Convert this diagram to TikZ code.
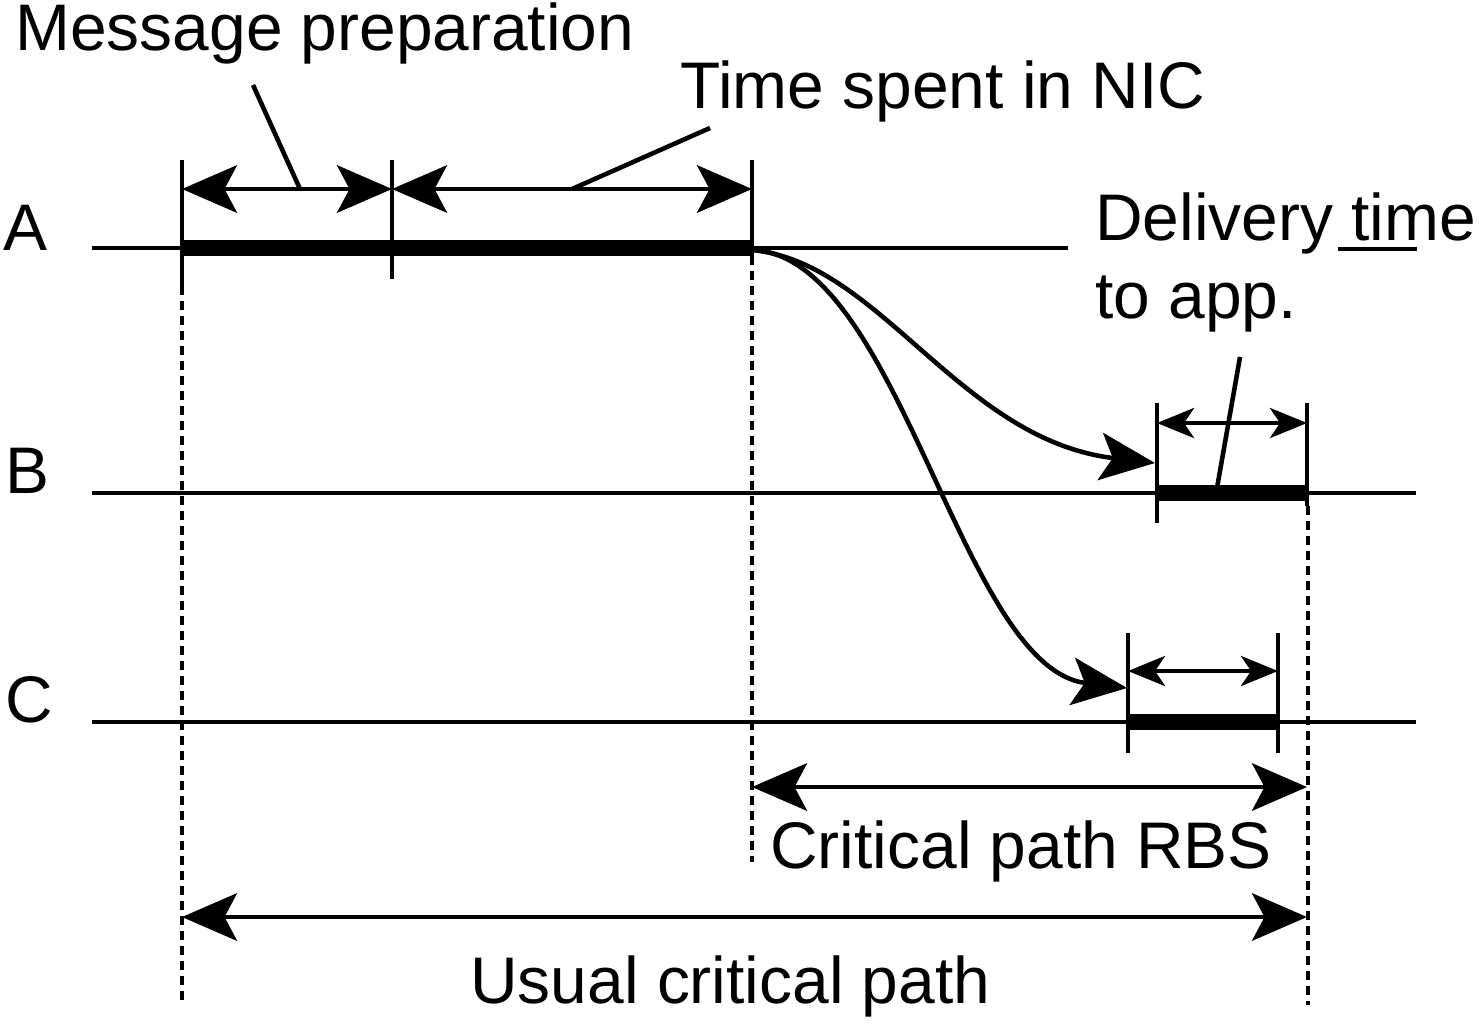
\documentclass[tikz,border=0pt]{standalone}
\usepackage{fontspec}
\setmainfont{Liberation Sans}
\usetikzlibrary{arrows.meta, positioning, calc}

\begin{document}
\begin{tikzpicture}[
    x=0.02cm, y=-0.02cm,
    label/.style={inner sep=0pt, anchor=base west, font=\fontsize{37.5}{44}\selectfont},
    timeline/.style={line width=2.6pt},
    busy/.style={line width=9.5pt},
    tick/.style={line width=2.6pt},
    guide/.style={line width=2.6pt, dash pattern=on 0.18cm off 0.12cm},
    leader/.style={line width=2.6pt},
    bighead/.tip={Stealth[length=1.1cm, width=0.95cm, inset=0.25cm]},
    smallhead/.tip={Stealth[length=0.74cm, width=0.6cm, inset=0.2cm]},
    span/.style={line width=2.6pt, bighead-bighead},
    shortspan/.style={line width=2.6pt, smallhead-smallhead},
    msg/.style={line width=2.6pt, -bighead}
]
    \useasboundingbox (0,0) rectangle (1483,1025);

    % process names
    \node (nA) [label] at (3,250) {A};
    \node (nB) [label] at (5,493) {B};
    \node (nC) [label] at (5,722) {C};

    % time lines
    \coordinate (Astart) at (92,248);
    \coordinate (Aend) at (1068,248);
    \coordinate (Bstart) at (92,493);
    \coordinate (Bend) at (1416,493);
    \coordinate (Cstart) at (92,722);
    \coordinate (Cend) at (1416,722);
    \draw [timeline] (Astart) -- (Aend);
    \draw [timeline] (Bstart) -- (Bend);
    \draw [timeline] (Cstart) -- (Cend);

    % busy intervals
    \coordinate (A0) at (182,248);
    \coordinate (A1) at (392,248);
    \coordinate (A2) at (752,248);
    \coordinate (B0) at (1157,493);
    \coordinate (B1) at (1307,493);
    \coordinate (C0) at (1128,722);
    \coordinate (C1) at (1278,722);
    \draw [busy] (A0) -- (A2);
    \draw [busy] (B0) -- (B1);
    \draw [busy] (C0) -- (C1);

    % ticks
    \draw [tick] (182,160) -- (182,286);
    \draw [tick] (392,160) -- (392,279);
    \draw [tick] (752,160) -- (752,256);
    \draw [tick] (1157,403) -- (1157,523);
    \draw [tick] (1307,403) -- (1307,506);
    \draw [tick] (1128,633) -- (1128,753);
    \draw [tick] (1278,633) -- (1278,753);

    % guides
    \draw [guide] (182,286) -- (182,1005);
    \draw [guide] (752,256) -- (752,862);
    \draw [guide] (1308,506) -- (1308,1005);

    % spans
    \coordinate (sp0) at (182,189);
    \coordinate (sp1) at (392,189);
    \coordinate (sp2) at (752,189);
    \draw [span] (sp0) -- (sp1);
    \draw [span] (sp1) -- (sp2);
    \coordinate (db0) at (1157,423);
    \coordinate (db1) at (1307,423);
    \draw [shortspan] (db0) -- (db1);
    \coordinate (dc0) at (1128,671);
    \coordinate (dc1) at (1278,671);
    \draw [shortspan] (dc0) -- (dc1);
    \coordinate (rbs0) at (752,787);
    \coordinate (rbs1) at (1307,787);
    \draw [span] (rbs0) -- (rbs1);
    \coordinate (usu0) at (182,917);
    \coordinate (usu1) at (1307,917);
    \draw [span] (usu0) -- (usu1);

    % messages
    \coordinate (send) at (752,250);
    \coordinate (recvB) at (1155,463);
    \coordinate (recvC) at (1127,688);
    \draw [msg] (send) .. controls (880,262) and (960,440) .. (recvB);
    \draw [msg] (send) .. controls (900,255) and (960,668) .. (recvC);

    % labels
    \node (prep) [label] at (15,50) {Message preparation};
    \node (nic) [label] at (680,108) {Time spent in NIC};
    \node (deliv) [label] at (1095,240) {Delivery time};
    \node (toapp) [label] at (1095,318) {to app.};
    \node (rbs) [label] at (770,868) {Critical path RBS};
    \node (usual) [label] at (470,1003) {Usual critical path};
    \draw [leader] (1338,249) -- (1417,249);

    % leaders
    \coordinate (prepfoot) at (300,189);
    \coordinate (nicfoot) at (572,189);
    \coordinate (delivfoot) at (1217,488);
    \draw [leader] (253,85) -- (prepfoot);
    \draw [leader] (710,128) -- (nicfoot);
    \draw [leader] (1240,357) -- (delivfoot);
\end{tikzpicture}
\end{document}
